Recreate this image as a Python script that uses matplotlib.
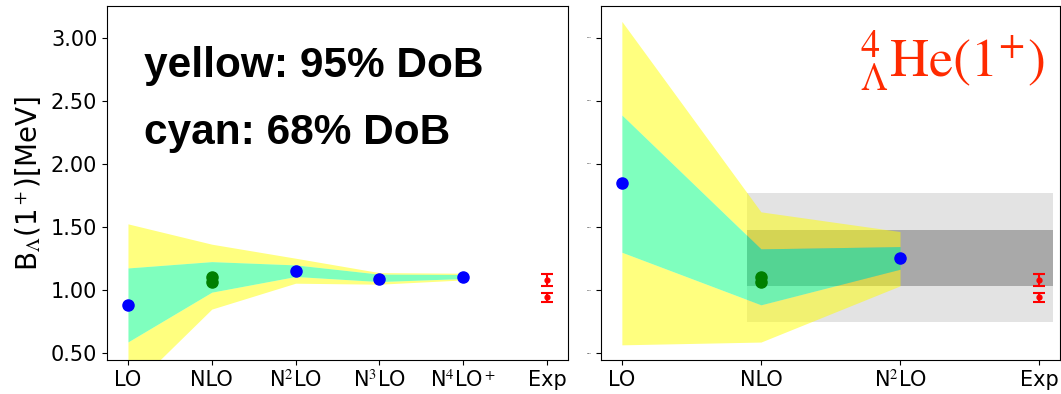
import numpy as np
import matplotlib
matplotlib.use("Agg")
import matplotlib.pyplot as plt

plt.rcParams["mathtext.fontset"] = "stix"

# ---- left panel: chiral orders up to N4LO+ ----
left_labels = ["LO", "NLO", r"N$^2$LO", r"N$^3$LO", r"N$^4$LO$^+$", "Exp"]
left_band_x = [0, 1, 2, 3, 4]
left_hi95 = [1.525, 1.364, 1.253, 1.139, 1.134]
left_hi68 = [1.176, 1.226, 1.200, 1.127, 1.124]
left_lo68 = [0.590, 0.984, 1.108, 1.068, 1.092]
left_lo95 = [0.200, 0.850, 1.055, 1.047, 1.081]
left_blue_x = [0, 2, 3, 4]
left_blue_y = [0.884, 1.155, 1.089, 1.105]

# ---- right panel: LO to N2LO ----
right_labels = ["LO", "NLO", r"N$^2$LO", "Exp"]
right_band_x = [0, 1, 2]
right_hi95 = [3.128, 1.620, 1.464]
right_hi68 = [2.387, 1.327, 1.345]
right_lo68 = [1.300, 0.884, 1.166]
right_lo95 = [0.567, 0.589, 1.034]
right_blue_x = [0, 2]
right_blue_y = [1.846, 1.258]
gray_x = [0.9, 3.1]
gray_light = [0.744, 1.772]
gray_dark = [1.036, 1.477]

# NLO results (several regulators) and experimental values
nlo_y = [1.105, 1.065]
exp_y = [1.080, 0.944]
exp_err = [0.046, 0.037]

yticks = [0.5, 1.0, 1.5, 2.0, 2.5, 3.0]

fig = plt.figure(figsize=(10.61, 3.94), dpi=100)
axL = fig.add_axes([107 / 1061, 34 / 394, 461 / 1061, 354 / 394])
axR = fig.add_axes([601 / 1061, 34 / 394, 459 / 1061, 354 / 394], sharey=axL)


def draw_bands(ax, x, lo95, lo68, hi68, hi95):
    ax.fill_between(x, hi68, hi95, color="yellow", alpha=0.5, lw=0, zorder=2)
    ax.fill_between(x, lo95, lo68, color="yellow", alpha=0.5, lw=0, zorder=2)
    ax.fill_between(x, lo68, hi68, color="springgreen", alpha=0.5, lw=0, zorder=2)


def draw_points(ax, blue_x, blue_y, nlo_x, exp_x):
    ax.plot(blue_x, blue_y, "o", color="blue", ms=8, zorder=5)
    ax.plot([nlo_x] * len(nlo_y), nlo_y, "o", color="green", ms=8, zorder=5)
    ax.errorbar([exp_x] * len(exp_y), exp_y, yerr=exp_err, fmt="o", color="red",
                ms=3.5, capsize=4.5, elinewidth=1.5, capthick=1.5, zorder=5)


# left panel
draw_bands(axL, left_band_x, left_lo95, left_lo68, left_hi68, left_hi95)
draw_points(axL, left_blue_x, left_blue_y, 1, 5)
axL.set_xticks(range(len(left_labels)))
axL.set_xticklabels(left_labels)
axL.set_xlim(-0.25, 5.25)
axL.set_ylim(0.447, 3.25)
axL.set_yticks(yticks)
axL.set_yticklabels([f"{v:.2f}" for v in yticks])
axL.tick_params(labelsize=15)
axL.set_ylabel(r"B$_\Lambda$(1$^+$)[MeV]", fontsize=20, labelpad=6)
axL.text(0.08, 0.800, "yellow: 95% DoB", transform=axL.transAxes,
         fontsize=30.5, fontweight="bold", family="Liberation Sans", va="baseline")
axL.text(0.08, 0.610, "cyan: 68% DoB", transform=axL.transAxes,
         fontsize=30.5, fontweight="bold", family="Liberation Sans", va="baseline")

# right panel
axR.fill_between(gray_x, [gray_light[0]] * 2, [gray_light[1]] * 2,
                 color="#e3e3e3", lw=0, zorder=1)
axR.fill_between(gray_x, [gray_dark[0]] * 2, [gray_dark[1]] * 2,
                 color="#a9a9a9", lw=0, zorder=1.5)
draw_bands(axR, right_band_x, right_lo95, right_lo68, right_hi68, right_hi95)
draw_points(axR, right_blue_x, right_blue_y, 1, 3)
axR.set_xticks(range(len(right_labels)))
axR.set_xticklabels(right_labels)
axR.set_xlim(-0.15, 3.15)
axR.tick_params(axis="x", labelsize=15)
axR.tick_params(axis="y", labelsize=1.5)
axR.text(0.564, 0.80, r"${}^{4}_{\Lambda}\mathrm{He}(1^{+})$", transform=axR.transAxes,
         fontsize=39, color="#ff2a00", va="baseline")

fig.savefig("out.png", dpi=100)
